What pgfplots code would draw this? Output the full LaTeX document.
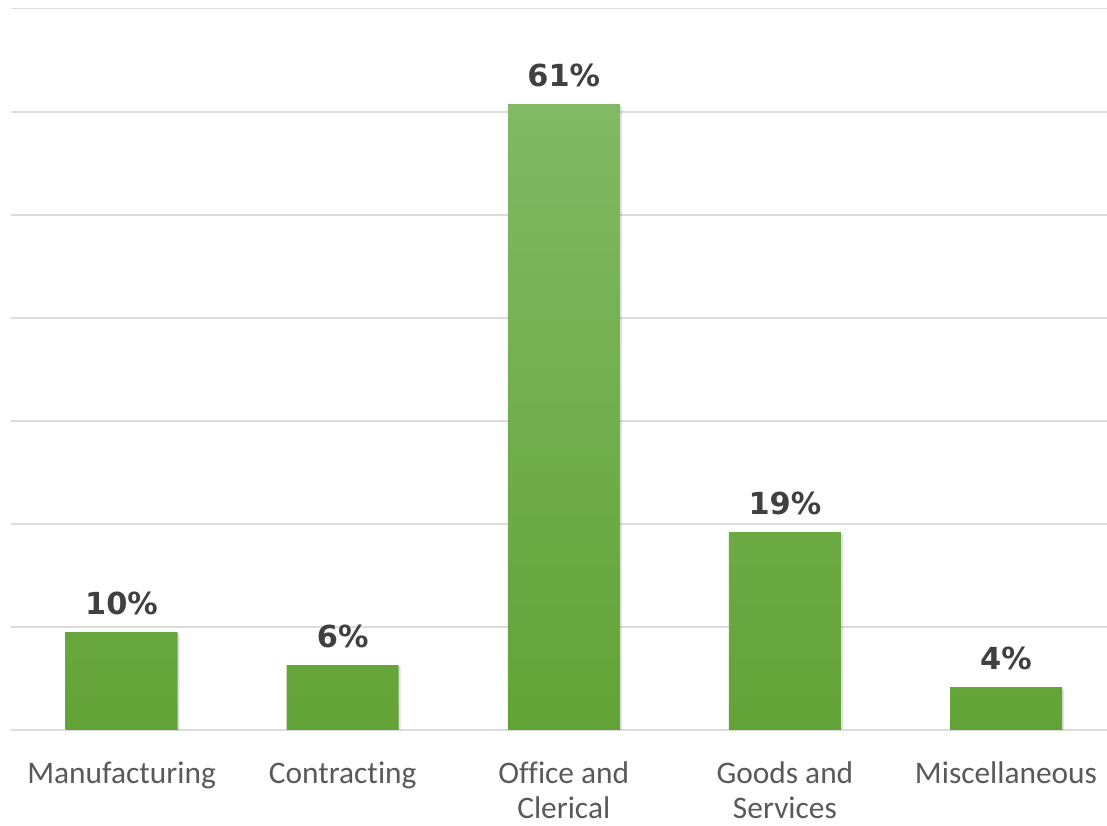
\documentclass[border=0pt]{standalone}
\usepackage{fontspec}
\setmainfont{Carlito}[Ligatures={NoCommon}]
\newfontfamily\valfont{DejaVu Sans}
\usepackage{pgfplots}
\pgfplotsset{compat=1.18}
\usepackage{pgfplotstable}
\definecolor{barTop}{HTML}{82B965}
\definecolor{barBot}{HTML}{62A336}
\definecolor{gridc}{HTML}{DCDCDC}
\definecolor{valc}{HTML}{404040}
\definecolor{catc}{HTML}{595959}
\newcommand\twol[2]{\vtop{\baselineskip=35.5bp\halign{\hfil##\hfil\cr#1\cr#2\cr}}}
\pgfplotstableread{
x y lab
0 9.5 10\%
1 6.3 6\%
2 60.75 61\%
3 19.2 19\%
4 4.15 4\%
}\datatab
\begin{document}
\begin{tikzpicture}
\begin{axis}[
  at={(11bp,96bp)}, anchor=south west,
  scale only axis, width=1096bp, height=721.3bp,
  xmin=-0.5, xmax=4.457, ymin=0, ymax=70,
  axis x line*=bottom, axis y line*=left,
  y axis line style={draw=none},
  x axis line style={draw=gridc, line width=1.6bp},
  ytick={0,10,...,70}, yticklabels={},
  ymajorgrids, grid style={draw=gridc, line width=1.6bp},
  major tick length=0pt,
  xtick=data,
  xticklabels={Manufacturing, Contracting, {\twol{Office and}{Clerical}}, {\twol{Goods and}{Services}}, Miscellaneous},
  xticklabel style={anchor=base, yshift=-53bp, font=\fontsize{31.5}{35.5}\selectfont, text=catc},
  ybar, bar width=112bp,
  point meta=explicit symbolic,
]
\addplot[draw=none, fill=black, opacity=0.12, bar shift=2bp, yshift=-2bp, forget plot] table[x=x, y=y] {\datatab};
\addplot[draw=none, top color=barTop, bottom color=barBot, bar shift=0pt,
  nodes near coords,
  nodes near coords style={anchor=base, yshift=18bp, font=\valfont\bfseries\fontsize{30.5}{36}\selectfont, text=valc}]
  table[x=x, y=y, meta=lab] {\datatab};
\end{axis}
\pgfresetboundingbox
\useasboundingbox (0,0) rectangle (1107bp,826bp);
\end{tikzpicture}
\end{document}
